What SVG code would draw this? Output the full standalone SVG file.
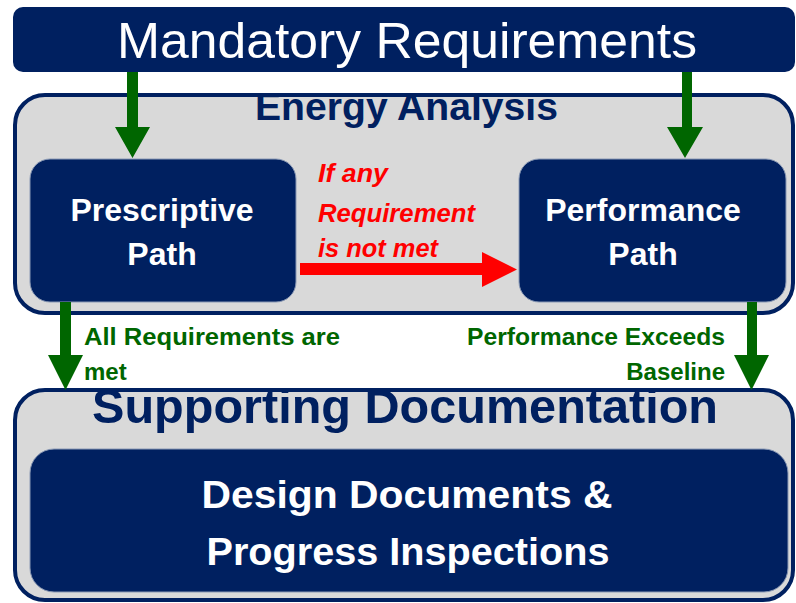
<svg xmlns="http://www.w3.org/2000/svg" width="796" height="603" viewBox="0 0 796 603">
<style>
.navy{fill:#002060}
.cont{fill:#d9d9d9;stroke:#002060;stroke-width:4}
.box{fill:#002060;stroke:#8a99b5;stroke-width:1}
.wt{fill:#ffffff;font-family:"Liberation Sans",Arial,sans-serif;font-weight:bold;text-anchor:middle}
.title{fill:#002060;font-family:"Liberation Sans",Arial,sans-serif;font-weight:bold}
.green{fill:#006600}
.gt{fill:#006600;font-family:"Liberation Sans",Arial,sans-serif;font-weight:bold;font-size:24px}
.rt{fill:#ff0000;font-family:"Liberation Sans",Arial,sans-serif;font-weight:bold;font-style:italic;font-size:25px}
</style>
<defs>
<clipPath id="clipEA"><rect x="13" y="93" width="783" height="222" rx="32"/></clipPath>
<clipPath id="clipSD"><rect x="13" y="388" width="783" height="214" rx="32"/></clipPath>
</defs>
<rect width="796" height="603" fill="#ffffff"/>

<g id="mandatory">
<rect x="13" y="7" width="782" height="65" rx="10" class="navy"/>
<text x="407" y="58" fill="#ffffff" font-family="'Liberation Sans',Arial,sans-serif" font-size="50" text-anchor="middle" textLength="580" lengthAdjust="spacingAndGlyphs">Mandatory Requirements</text>
</g>

<g id="energy-analysis">
<g clip-path="url(#clipEA)">
<rect x="15" y="95" width="778" height="218" rx="30" fill="#d9d9d9"/>
<text x="255" y="120" class="title" font-size="38" textLength="303" lengthAdjust="spacingAndGlyphs">Energy Analysis</text>
</g>
<rect x="15" y="95" width="778" height="218" rx="30" fill="none" stroke="#002060" stroke-width="4"/>
</g>

<g id="prescriptive">
<rect x="30" y="159" width="266" height="143" rx="20" class="box"/>
<text x="162" y="221" class="wt" font-size="32">Prescriptive</text>
<text x="162" y="265" class="wt" font-size="32">Path</text>
</g>

<g id="performance">
<rect x="519" y="159" width="267" height="143" rx="20" class="box"/>
<text x="643" y="221" class="wt" font-size="32">Performance</text>
<text x="643" y="265" class="wt" font-size="32">Path</text>
</g>

<g id="supporting-documentation">
<g clip-path="url(#clipSD)">
<rect x="15" y="390" width="778" height="210" rx="30" fill="#d9d9d9"/>
<text x="92" y="423" class="title" font-size="49" textLength="626" lengthAdjust="spacingAndGlyphs">Supporting Documentation</text>
</g>
<rect x="15" y="390" width="778" height="210" rx="30" fill="none" stroke="#002060" stroke-width="4"/>
</g>

<g id="design-documents">
<rect x="30" y="449" width="758" height="143" rx="24" class="box"/>
<text x="407" y="508" class="wt" font-size="38" textLength="411" lengthAdjust="spacingAndGlyphs">Design Documents &amp;</text>
<text x="408" y="565" class="wt" font-size="38" textLength="403" lengthAdjust="spacingAndGlyphs">Progress Inspections</text>
</g>

<g id="connectors">
<polygon class="green" points="127,72 138,72 138,127 150,127 132.5,158 115,127 127,127"/>
<polygon class="green" points="682,72 692,72 692,127 703,127 685,158 667,127 682,127"/>
<polygon class="green" points="60,302 71,302 71,355 83,355 65.5,390 48,355 60,355"/>
<polygon class="green" points="747,302 757,302 757,355 769,355 751.5,390 734,355 747,355"/>
<polygon fill="#ff0000" points="300,263 482,263 482,252 517,269.5 482,287 482,275 300,275"/>
</g>

<g id="labels">
<text x="318" y="182" class="rt" textLength="70" lengthAdjust="spacingAndGlyphs">If any</text>
<text x="318" y="222" class="rt" textLength="157" lengthAdjust="spacingAndGlyphs">Requirement</text>
<text x="318" y="257" class="rt" textLength="120" lengthAdjust="spacingAndGlyphs">is not met</text>
<text x="84" y="345" class="gt" textLength="256" lengthAdjust="spacingAndGlyphs">All Requirements are</text>
<text x="84" y="380" class="gt">met</text>
<text x="725" y="345" class="gt" text-anchor="end" textLength="258" lengthAdjust="spacingAndGlyphs">Performance Exceeds</text>
<text x="725" y="380" class="gt" text-anchor="end">Baseline</text>
</g>
</svg>
